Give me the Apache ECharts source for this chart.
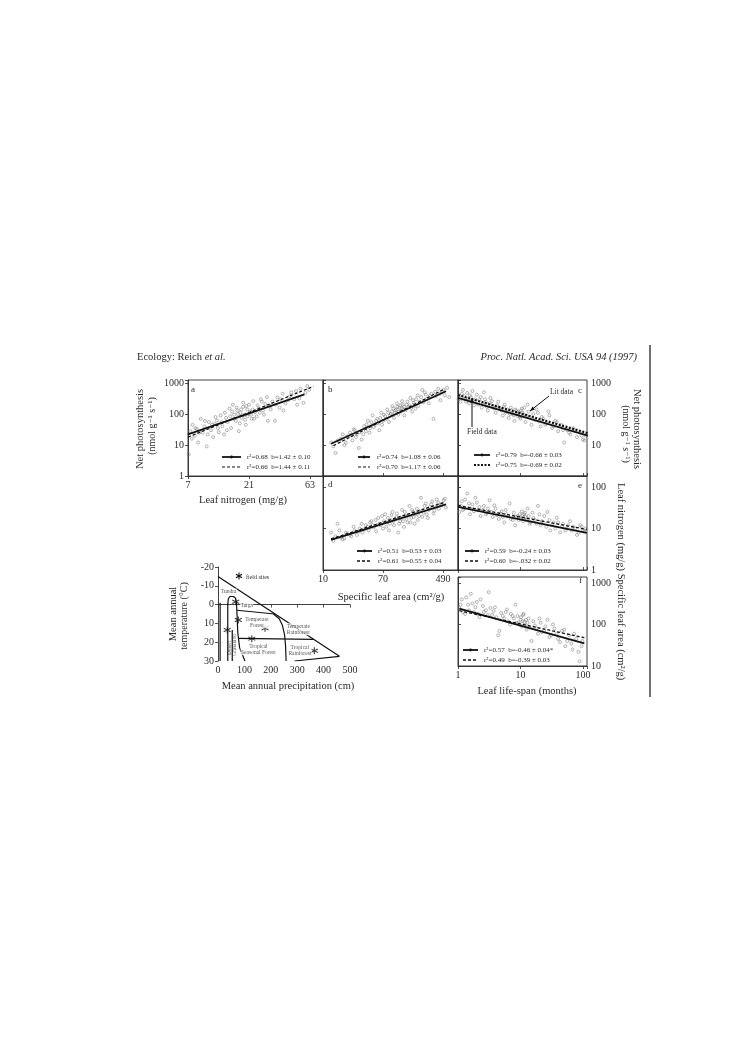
<!DOCTYPE html>
<html>
<head>
<meta charset="utf-8">
<script src="https://cdn.jsdelivr.net/npm/echarts@6/dist/echarts.min.js"></script>
<style>
html, body { margin: 0; background: #fff; }
#chart { width: 745px; height: 1053px; }
</style>
</head>
<body>
<div id="chart"></div>
<script>
// a: leaf nitrogen vs net photosynthesis
const aNitrogen = [7.1,7.3,7.5,7.6,7.9,8.2,8.4,8.8,9.1,9.4,9.8,10.2,10.6,11.0,11.3,11.8,12.2,12.6,13.0,13.4,13.9,14.3,14.8,15.2,15.7,16.1,16.6,17.0,17.5,18.0,18.4,18.9,19.3,19.8,20.3,20.8,21.4,22.0,22.7,23.4,24.1,25.0,26.0,27.0,28.2,29.5,30.8,32.0,33.5,35.0,36.5,38.5,40.5,42.5,45.0,47.5,50.0,53.0,56.0,60.0,
    8.0,8.6,9.5,10.0,10.8,11.5,12.0,12.8,13.6,14.1,15.0,15.5,16.0,16.8,17.2,17.8,18.2,18.7,19.0,19.6,20.0,20.5,21.0,21.8,22.4,23.0,24.5,25.5,26.5,27.5,29.0,31.0,34.0,37.0,39.0,44.0,49.0,52.0,58.0,62.0];
const aPhoto = [5,28,16,45,20,33,12,70,25,40,9,55,30,18,48,62,26,90,40,22,75,55,150,35,200,95,60,130,28,110,75,170,90,45,140,100,120,70,260,115,85,150,300,130,210,60,180,250,60,340,160,450,220,280,500,300,200,650,230,800,
    35,25,60,22,45,80,35,55,110,30,85,120,70,160,100,50,140,90,230,65,180,85,200,95,140,70,190,110,250,95,350,140,200,300,130,380,550,320,480,600];
const aSolid = [[7, 22], [57, 430]];
const aDash = [[7, 18], [67, 780]];
const aLegend = ['r²=0.68  b=1.42 ± 0.10', 'r²=0.66  b=1.44 ± 0.11'];

// b: specific leaf area vs net photosynthesis
const bSla = [13,15,16,18,20,22,24,26,28,30,32,35,38,40,43,46,50,54,58,62,66,70,75,80,85,90,95,100,105,110,115,120,125,130,135,140,150,160,170,180,190,200,215,230,250,270,290,310,335,360,390,420,450,480,520,560,600,
    14,17,19,21,25,27,29,33,37,41,45,48,52,56,60,64,68,72,78,83,88,93,98,103,108,112,118,122,128,133,138,145,155,165,175,185,195,205,220,240,260,280,320,380,440,500];
const bPhoto = [12,5.5,14,16,10,19,25,14,30,22,8,15,40,28,60,35,90,45,70,30,110,60,85,140,55,100,180,75,130,220,95,160,120,260,140,90,200,170,330,120,230,150,400,250,600,500,300,220,450,70,380,650,280,520,400,700,350,
    9,13,22,12,20,32,18,26,22,45,25,55,38,60,50,75,45,95,70,110,90,120,150,110,140,170,120,190,150,200,170,130,250,190,160,280,200,300,180,350,240,420,380,520,450,600];
const bSolid = [[13, 11], [540, 540]];
const bDash = [[14, 9.5], [520, 650]];
const bLegend = ['r²=0.74  b=1.08 ± 0.06', 'r²=0.70  b=1.17 ± 0.06'];

// c: leaf life-span vs net photosynthesis
const cSpan = [1.05,1.1,1.2,1.3,1.4,1.5,1.6,1.7,1.8,2.0,2.2,2.4,2.6,2.8,3.0,3.3,3.6,4.0,4.4,4.8,5.2,5.6,6.0,6.5,7.0,7.5,8.0,8.5,9.0,9.5,10,10.5,11,12,13,14,15,17,19,21,23,26,29,32,36,40,45,50,56,63,70,80,90,100,110,118,
    1.02,1.15,1.25,1.35,1.45,1.55,1.65,1.9,2.1,2.3,2.5,2.7,2.9,3.2,3.5,3.8,4.2,4.6,5.0,5.4,5.8,6.2,6.8,7.2,7.8,8.2,8.8,9.2,9.8,10.2,10.8,11.5,12.5,13.5,16,18,20,22,25,28,34,38,48,60,75,95,105];
const cPhoto = [400,250,600,300,480,220,350,550,190,420,280,160,500,240,130,330,180,110,250,140,90,200,120,75,160,100,60,130,85,110,70,150,95,55,200,80,45,65,110,40,70,50,90,35,60,28,45,12,30,22,35,18,25,15,20,17,
    300,450,380,250,320,400,270,300,200,350,210,300,170,220,260,150,190,160,130,170,110,140,100,130,90,140,100,120,80,130,110,160,90,120,100,140,60,80,45,120,40,55,30,25,28,20,14];
const cSolid = [[1, 330], [120, 20]];
const cDash = [[1, 410], [120, 24]];
const cLegend = ['r²=0.79  b=-0.66 ± 0.03', 'r²=0.75  b=-0.69 ± 0.02'];

// d: specific leaf area vs leaf nitrogen
const dSla = [13,14,16,18,20,22,25,28,30,33,36,40,44,48,52,56,60,65,70,75,80,85,90,95,100,108,115,122,130,138,146,155,165,175,185,195,210,225,240,260,280,300,320,345,370,400,430,460,500,540,
    15,17,19,21,24,27,32,35,38,42,46,50,55,62,68,72,78,82,88,92,98,104,110,118,125,134,142,150,160,170,180,190,200,215,230,250,270,290,310,335,360,390,420,470,520];
const dNitrogen = [8,5,13,6,5.8,7.5,6.5,9,7,10,8,12,9,15,10.5,8.5,18,12,10,22,14,9,16,25,12,19,8,15,28,11,20,14,35,18,25,13,30,20,55,24,40,18,33,45,27,50,30,38,48,32,
    6.5,9,5.5,8,7,11,8.5,13,9.5,11,14,12,16,13,20,15,11,18,13,21,15,17,23,13,18,15,25,17,21,14,28,19,22,16,26,19,35,22,28,38,23,32,42,36,52];
const dSolid = [[13, 5.3], [540, 38]];
const dDash = [[13, 5.6], [500, 42]];
const dLegend = ['r²=0.51  b=0.53 ± 0.03', 'r²=0.61  b=0.55 ± 0.04'];

// e: leaf life-span vs leaf nitrogen
const eSpan = [1.05,1.15,1.25,1.4,1.55,1.7,1.9,2.1,2.3,2.6,2.9,3.2,3.6,4.0,4.5,5.0,5.5,6.0,6.7,7.5,8.2,9.0,10,10.5,11,11.5,12,13,14,15.5,17,19,21,24,27,30,34,38,43,48,55,62,70,80,90,100,110,
    1.1,1.2,1.3,1.5,1.6,1.8,2.0,2.2,2.5,2.8,3.0,3.4,3.8,4.2,4.8,5.2,5.8,6.3,7.0,7.8,8.5,9.3,9.7,10.2,10.8,11.2,11.8,12.5,13.5,14.5,16,18,20,22,26,29,32,36,40,46,52,58,66,75,85,95,105];
const eNitrogen = [25,45,30,70,22,38,55,28,20,35,24,48,19,30,17,26,14,22,40,16,12,20,18,26,15,22,19,30,13,24,16,35,12,20,25,9,14,18,8,13,10,15,11,7,12,9,10,
    35,28,50,40,30,26,42,33,28,22,30,25,36,21,23,19,28,20,17,24,19,16,22,17,21,18,24,16,20,14,18,13,22,15,11,16,12,10,14,11,9,12,9,10,8,11,8.5];
const eSolid = [[1, 33], [115, 7.8]];
const eDash = [[1, 36], [115, 9.5]];
const eLegend = ['r²=0.59  b=-0.24 ± 0.03', 'r²=0.60  b=-.032 ± 0.02'];

// f: leaf life-span vs specific leaf area
const fSpan = [1.05,1.15,1.3,1.45,1.6,1.8,2.0,2.2,2.5,2.8,3.1,3.5,3.9,4.4,4.9,5.5,6.1,6.8,7.5,8.3,9.2,10,10.5,11,11.5,12.5,13.5,15,17,19,21,24,27,31,35,40,46,52,60,68,78,88,98,
    1.1,1.2,1.35,1.5,1.7,1.9,2.1,2.3,2.6,3.0,3.3,3.7,4.1,4.6,5.2,5.8,6.4,7.0,7.8,8.6,9.0,9.6,10.2,10.8,11.2,11.8,12.2,13,14,16,18,20,22,25,29,33,38,43,50,56,65,72,85,95];
const fSla = [250,400,180,300,550,200,350,150,280,220,600,170,260,55,190,140,230,100,160,300,110,130,90,170,115,75,140,40,95,60,110,70,130,55,80,45,70,30,55,25,45,13,40,
    300,200,450,220,320,260,180,400,200,170,250,210,150,70,160,200,120,180,140,110,160,100,150,120,180,95,130,110,85,120,80,140,65,90,50,100,60,38,75,40,35,60,22,30];
const fSolid = [[1.05, 240], [105, 35]];
const fDash = [[1.05, 215], [105, 48]];
const fLegend = ['r²=0.57  b=-0.46 ± 0.04*', 'r²=0.49  b=-0.39 ± 0.03'];

// biome inset: precipitation (cm) vs temperature (°C)
const sitePrecip = [67, 77, 35, 178, 128, 365];
const siteTemp = [-1.5, 8.2, 13.5, 12.6, 18.1, 24.5];
const biomeOuter = [[0, -15], [460, 27.5], [290, 30]];
const biomeDesertEdge = [[8, -1], [8, 30]];
const biomeGrassLoop = [[37, 30], [37, 0], [39, -3], [45, -4.3], [58, -4.3], [66, -3.5], [70, -1], [72, 5], [75, 15], [82, 23], [102, 30]];
const biomeDesertGrass = [[54, 13.5], [54, 30]];
const biomeTaigaEdge = [[72, 3], [215, 5]];
const biomeTempForestEdge = [[210, 5], [232, 7.5], [244, 11], [252, 16], [256, 22], [258, 30]];
const biomeTropicEdge = [[76, 18], [362, 18.5]];
const biomeNames = ['Tundra', 'Taiga', 'Temperate\nForest', 'Temperate\nRainforest', 'Tropical\nSeasonal Forest', 'Tropical\nRainforest', 'Desert', 'Grassland'];
const biomeNameP = [40, 109, 147, 304, 153, 310, 45, 63];
const biomeNameT = [-6.9, 0.5, 9.4, 13.1, 23.8, 24.3, 23, 21.5];

const chart = echarts.init(document.getElementById('chart'));
const SERIF = '"Liberation Serif", "DejaVu Serif", serif';
const INK = '#2a2a2a';

const lg = Math.log10;
const log3from7 = v => Math.log(v / 7) / Math.log(3);
const log7from10 = v => Math.log(v / 10) / Math.log(7);
const isWhole = v => Math.abs(v - Math.round(v)) < 1e-6;
const powLabel = (base, mult) => v => isWhole(v) ? String(Math.round(mult * Math.pow(base, v))) : '';

function pairs(xs, ys, fx, fy) {
    return xs.map(function (x, i) { return [fx(x), fy(ys[i])]; });
}

// grids: 0 a, 1 b, 2 c, 3 d, 4 e, 5 f, 6 biome
const grids = [
    {left: 188, top: 380, width: 135, height: 96},
    {left: 323, top: 380, width: 135, height: 96},
    {left: 458, top: 380, width: 129, height: 96},
    {left: 323, top: 476, width: 135, height: 94},
    {left: 458, top: 476, width: 129, height: 94},
    {left: 458, top: 577, width: 129, height: 89},
    {left: 218, top: 567, width: 132, height: 94, show: false}
].map(function (g) {
    return Object.assign({show: true, borderColor: INK, borderWidth: 0.9, backgroundColor: 'transparent'}, g);
});

function axis(gridIndex, position, min, max, interval, fmt) {
    return {
        type: 'value', gridIndex: gridIndex, position: position,
        min: min, max: max, interval: interval,
        splitLine: {show: false},
        axisLine: {show: true, lineStyle: {color: INK, width: 0.9}},
        axisTick: {show: true, length: 3, inside: !fmt, lineStyle: {color: INK, width: 0.8}},
        axisLabel: {show: !!fmt, formatter: fmt, fontFamily: SERIF, fontSize: 10, color: INK, margin: 4}
    };
}

const xAxes = [
    axis(0, 'bottom', 0, 2.213, 1, powLabel(3, 7)),
    axis(1, 'bottom', 0, 2.25, 1, null),
    axis(2, 'bottom', 0, 2.064, 1, null),
    axis(3, 'bottom', 0, 2.25, 1, powLabel(7, 10)),
    axis(4, 'bottom', 0, 2.064, 1, null),
    axis(5, 'bottom', 0, 2.064, 1, powLabel(10, 1)),
    axis(6, 'bottom', 0, 500, 100, v => String(v))
];
const yAxes = [
    axis(0, 'left', 0, 3.097, 1, powLabel(10, 1)),
    axis(1, 'left', 0, 3.097, 1, null),
    axis(2, 'right', 0, 3.097, 1, v => (isWhole(v) && v > 0.5) ? String(Math.round(Math.pow(10, v))) : ''),
    axis(3, 'left', 0, 2.265, 1, null),
    axis(4, 'right', 0, 2.265, 1, powLabel(10, 1)),
    axis(5, 'right', 1, 3.145, 1, powLabel(10, 1)),
    Object.assign(axis(6, 'left', -20, 30, 10, v => String(v)), {inverse: true})
];
xAxes[6].axisTick.inside = false;
yAxes[6].axisTick.inside = false;

const dotStyle = {color: 'rgba(0,0,0,0)', borderColor: '#7a7a7a', borderWidth: 0.7};

function scatter(idx, data) {
    return {type: 'scatter', xAxisIndex: idx, yAxisIndex: idx, data: data, symbol: 'circle', symbolSize: 3, itemStyle: dotStyle, silent: true, z: 2};
}
function fit(idx, data, width, dash) {
    return {
        type: 'line', xAxisIndex: idx, yAxisIndex: idx, data: data, showSymbol: false, silent: true, z: 3,
        lineStyle: {color: '#111', width: width, type: dash || 'solid'}
    };
}
function outline(data) {
    return {
        type: 'line', xAxisIndex: 6, yAxisIndex: 6, data: data, showSymbol: false, silent: true,
        lineStyle: {color: '#111', width: 1.2}
    };
}

const series = [
    scatter(0, pairs(aNitrogen, aPhoto, log3from7, lg)),
    fit(0, pairs(aSolid.map(p => p[0]), aSolid.map(p => p[1]), log3from7, lg), 1.8),
    fit(0, pairs(aDash.map(p => p[0]), aDash.map(p => p[1]), log3from7, lg), 1.2, [3, 2]),

    scatter(1, pairs(bSla, bPhoto, log7from10, lg)),
    fit(1, pairs(bSolid.map(p => p[0]), bSolid.map(p => p[1]), log7from10, lg), 1.8),
    fit(1, pairs(bDash.map(p => p[0]), bDash.map(p => p[1]), log7from10, lg), 1.2, [3, 2]),

    scatter(2, pairs(cSpan, cPhoto, lg, lg)),
    fit(2, pairs(cSolid.map(p => p[0]), cSolid.map(p => p[1]), lg, lg), 1.8),
    fit(2, pairs(cDash.map(p => p[0]), cDash.map(p => p[1]), lg, lg), 2.2, [2, 1.5]),

    scatter(3, pairs(dSla, dNitrogen, log7from10, lg)),
    fit(3, pairs(dSolid.map(p => p[0]), dSolid.map(p => p[1]), log7from10, lg), 1.8),
    fit(3, pairs(dDash.map(p => p[0]), dDash.map(p => p[1]), log7from10, lg), 1.4, [3, 2]),

    scatter(4, pairs(eSpan, eNitrogen, lg, lg)),
    fit(4, pairs(eSolid.map(p => p[0]), eSolid.map(p => p[1]), lg, lg), 1.8),
    fit(4, pairs(eDash.map(p => p[0]), eDash.map(p => p[1]), lg, lg), 1.3, [3, 2]),

    scatter(5, pairs(fSpan, fSla, lg, lg)),
    fit(5, pairs(fSolid.map(p => p[0]), fSolid.map(p => p[1]), lg, lg), 1.8),
    fit(5, pairs(fDash.map(p => p[0]), fDash.map(p => p[1]), lg, lg), 1.3, [3, 2]),

    outline(biomeOuter),
    outline(biomeDesertEdge),
    outline(biomeGrassLoop),
    outline(biomeDesertGrass),
    outline(biomeTaigaEdge),
    outline(biomeTempForestEdge),
    outline(biomeTropicEdge),
    {
        type: 'scatter', xAxisIndex: 6, yAxisIndex: 6, silent: true, z: 4,
        data: sitePrecip.map((p, i) => [p, siteTemp[i]]),
        symbol: 'path://M5,0L5,10M0.7,2.5L9.3,7.5M0.7,7.5L9.3,2.5', symbolSize: 7,
        itemStyle: {color: 'rgba(0,0,0,0)', borderColor: '#111', borderWidth: 1.1}
    },
    {
        type: 'scatter', xAxisIndex: 6, yAxisIndex: 6, silent: true, symbolSize: 0, z: 5,
        data: biomeNames.map((n, i) => ({
            name: n, value: [biomeNameP[i], biomeNameT[i]],
            label: (n === 'Desert' || n === 'Grassland') ? {rotate: 90, backgroundColor: 'transparent'} : {}
        })),
        label: {
            show: true, position: 'inside', formatter: '{b}', fontFamily: SERIF, fontSize: 5.5,
            lineHeight: 6, color: INK, backgroundColor: '#fff', padding: [0, 0.5]
        }
    }
];

function text(x, y, str, size, opts) {
    return Object.assign({
        type: 'text', x: x, y: y, silent: true,
        style: Object.assign({text: str, font: size + 'px ' + SERIF, fill: INK, textAlign: 'center', textVerticalAlign: 'middle'}, (opts && opts.style) || {})
    }, (opts && opts.el) || {});
}
function seg(x1, y1, x2, y2, w, dash) {
    const s = {stroke: '#111', lineWidth: w};
    if (dash) s.lineDash = dash;
    return {type: 'line', silent: true, shape: {x1: x1, y1: y1, x2: x2, y2: y2}, style: s};
}
function legendPair(x, y, w, gap, labels, dash, dashWidth) {
    return [
        seg(x, y, x + w, y, 1.8),
        {type: 'circle', silent: true, shape: {cx: x + w / 2, cy: y, r: 1.4}, style: {fill: '#111'}},
        text(x + w + gap, y, labels[0], 7, {style: {textAlign: 'left'}}),
        seg(x, y + 10, x + w, y + 10, dashWidth, dash),
        text(x + w + gap, y + 10, labels[1], 7, {style: {textAlign: 'left'}})
    ];
}
function arrow(x1, y1, x2, y2) {
    const a = Math.atan2(y2 - y1, x2 - x1), L = 5, s = 0.4;
    return [
        seg(x1, y1, x2, y2, 1),
        {type: 'polygon', silent: true, shape: {points: [[x2, y2],
            [x2 - L * Math.cos(a - s), y2 - L * Math.sin(a - s)],
            [x2 - L * Math.cos(a + s), y2 - L * Math.sin(a + s)]]}, style: {fill: '#111'}}
    ];
}
function star(cx, cy) {
    return [seg(cx, cy - 3.5, cx, cy + 3.5, 1.1), seg(cx - 3, cy - 1.8, cx + 3, cy + 1.8, 1.1), seg(cx - 3, cy + 1.8, cx + 3, cy - 1.8, 1.1)];
}

const up = Math.PI / 2, down = -Math.PI / 2;
const graphics = [].concat(
    [
        text(137, 357, '{n|Ecology: Reich }{i|et al.}', 10.5, {style: {textAlign: 'left', rich: {n: {fontFamily: SERIF, fontSize: 10.5}, i: {fontFamily: SERIF, fontSize: 10.5, fontStyle: 'italic'}}}}),
        text(637, 357, 'Proc. Natl. Acad. Sci. USA 94 (1997)', 10.5, {style: {textAlign: 'right', font: 'italic 10.5px ' + SERIF}}),
        seg(650, 345, 650, 697, 1.2),

        text(191, 390, 'a', 9, {style: {textAlign: 'left'}}),
        text(328, 390, 'b', 9, {style: {textAlign: 'left'}}),
        text(578, 391, 'c', 9, {style: {textAlign: 'left'}}),
        text(328, 485, 'd', 9, {style: {textAlign: 'left'}}),
        text(578, 486, 'e', 9, {style: {textAlign: 'left'}}),
        text(579, 581, 'f', 9, {style: {textAlign: 'left'}}),

        text(140, 429, 'Net photosynthesis', 10.5, {el: {rotation: up}}),
        text(152, 426, '(nmol g⁻¹ s⁻¹)', 10, {el: {rotation: up}}),
        text(243, 500, 'Leaf nitrogen (mg/g)', 10.5),
        text(391, 597, 'Specific leaf area (cm²/g)', 10.5),
        text(527, 691, 'Leaf life-span (months)', 10.5),

        text(637, 429, 'Net photosynthesis', 10.5, {el: {rotation: down}}),
        text(626, 434, '(nmol g⁻¹ s⁻¹)', 10, {el: {rotation: down}}),
        text(621, 527, 'Leaf nitrogen (mg/g)', 10.5, {el: {rotation: down}}),
        text(621, 627, 'Specific leaf area (cm²/g)', 10.5, {el: {rotation: down}}),

        text(173, 614, 'Mean annual', 10.5, {el: {rotation: up}}),
        text(184, 616, 'temperature (°C)', 10, {el: {rotation: up}}),
        text(288, 686, 'Mean annual precipitation (cm)', 10.5),
        text(246, 577, 'field sites', 6, {style: {textAlign: 'left'}}),

        text(550, 392, 'Lit data', 7.5, {style: {textAlign: 'left'}}),
        text(467, 432, 'Field data', 7.5, {style: {textAlign: 'left'}})
    ],
    star(239, 576),
    arrow(549, 396, 530, 411),
    arrow(472, 427, 472, 398),
    legendPair(222, 457, 19, 6, aLegend, [3, 2], 1.2),
    legendPair(358, 457, 12, 7, bLegend, [3, 2], 1.2),
    legendPair(474, 455, 16, 6, cLegend, [2, 1.5], 2.2),
    legendPair(357, 551, 15, 6, dLegend, [3, 2], 1.4),
    legendPair(465, 551, 14, 6, eLegend, [3, 2], 1.3),
    legendPair(463, 650, 15, 6, fLegend, [3, 2], 1.3)
);

chart.setOption({
    backgroundColor: '#fff',
    animation: false,
    grid: grids,
    xAxis: xAxes,
    yAxis: yAxes,
    series: series,
    graphic: graphics
});
</script>
</body>
</html>
